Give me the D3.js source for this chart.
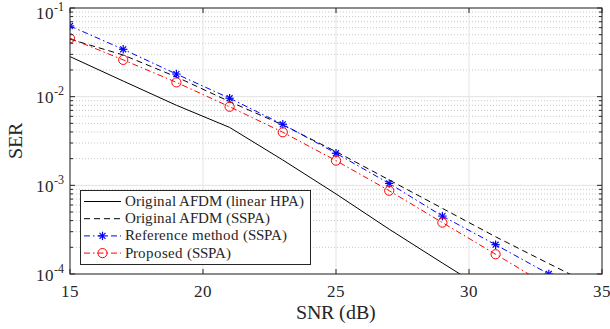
<!DOCTYPE html>
<html><head><meta charset="utf-8">
<script src="https://cdn.jsdelivr.net/npm/d3@7"></script>
<style>
@font-face{font-family:"ChartSerif";src:local("Liberation Serif"),local("LiberationSerif"),local("LiberationSerif-Regular"),local("DejaVu Serif"),local("DejaVuSerif"),local("Noto Serif"),local("NotoSerif-Regular"),local("Times New Roman"),local("FreeSerif");}
body{margin:0;background:#fff}svg{display:block}
svg text{font-family:"ChartSerif","Liberation Serif","DejaVu Serif","Noto Serif","Times New Roman",Times,serif}
</style>
</head><body><svg id="c" width="610" height="329"></svg>
<script>
const snrMarked = [15,17,19,21,23,25,27,29,31,33];
const snrAll = [15,17,19,21,23,25,27,29,31,33,35];
const linearHPA = [0.0283,0.0150,0.0080,0.0045,0.00193,8.0e-4,3.2e-4,1.33e-4,5.6e-5];
const originalSSPA = [0.0445,0.0295,0.0167,0.0088,0.0048,0.0024,0.00115,5.5e-4,2.63e-4,1.31e-4,6.6e-5];
const referenceSSPA = [0.0627,0.0342,0.0180,0.0096,0.00488,0.0023,0.00105,4.5e-4,2.14e-4,1.0e-4];
const proposedSSPA = [0.0455,0.0260,0.0145,0.0077,0.00397,0.0019,8.7e-4,3.8e-4,1.67e-4,7.3e-5];
const xTicks = [15,20,25,30,35];
const yTicks = [1e-4,1e-3,1e-2,1e-1];
const yExp = ["-4","-3","-2","-1"];
const legendLabels = ["Original AFDM (linear HPA)","Original AFDM (SSPA)","Reference method (SSPA)","Proposed (SSPA)"];

const svg = d3.select("#c");
const L=70,R=602,T=8,B=274;
const x = d3.scaleLinear().domain([15,35]).range([L,R]);
const y = d3.scaleLog().domain([1e-4,1e-1]).range([B,T]);
const ink="#262626";

// minor grid
const minor=[];
for(let e=-4;e<-1;e++) for(let m=2;m<=9;m++) minor.push(m*Math.pow(10,e));
svg.append("g").selectAll("line").data(minor).join("line")
  .attr("x1",L).attr("x2",R).attr("y1",d=>y(d)).attr("y2",d=>y(d))
  .attr("stroke","#c8c8c8").attr("stroke-width",1).attr("stroke-dasharray","1,2");
// major grid
svg.append("g").selectAll("line").data(yTicks).join("line")
  .attr("x1",L).attr("x2",R).attr("y1",d=>y(d)).attr("y2",d=>y(d))
  .attr("stroke","#e3e3e3").attr("stroke-width",1);
svg.append("g").selectAll("line").data(xTicks).join("line")
  .attr("y1",T).attr("y2",B).attr("x1",d=>x(d)).attr("x2",d=>x(d))
  .attr("stroke","#e3e3e3").attr("stroke-width",1);

// clip
svg.append("clipPath").attr("id","clip").append("rect").attr("x",L).attr("y",T).attr("width",R-L).attr("height",B-T);
const plot = svg.append("g").attr("clip-path","url(#clip)");
const line = d3.line().x(d=>x(d[0])).y(d=>y(d[1]));

const series = [
  {xs:snrAll.slice(0,linearHPA.length),ys:linearHPA,color:"#000",dash:null,marker:null},
  {xs:snrAll,ys:originalSSPA,color:"#000",dash:"6,4",marker:null},
  {xs:snrMarked,ys:referenceSSPA,color:"#0000ff",dash:"6,3,1.5,3",marker:"star"},
  {xs:snrMarked,ys:proposedSSPA,color:"#ff0000",dash:"6,3,1.5,3",marker:"circle"}
];
function star(g,cx,cy,color){
  const r=4.2;
  [0,45,90,135].forEach(a=>{
    const rad=a*Math.PI/180, dx=r*Math.cos(rad), dy=r*Math.sin(rad);
    g.append("line").attr("x1",cx-dx).attr("y1",cy-dy).attr("x2",cx+dx).attr("y2",cy+dy)
     .attr("stroke",color).attr("stroke-width",1.2);
  });
}
function circ(g,cx,cy,color){
  g.append("circle").attr("cx",cx).attr("cy",cy).attr("r",4.6).attr("fill","none").attr("stroke",color).attr("stroke-width",1);
}
series.forEach(s=>{
  const pts=s.xs.map((v,i)=>[v,s.ys[i]]);
  plot.append("path").attr("d",line(pts)).attr("fill","none").attr("stroke",s.color)
    .attr("stroke-width",1).attr("stroke-dasharray",s.dash);
  if(s.marker){
    pts.forEach(p=>{ if(p[1]>=1e-4){ if(s.marker==="star") star(plot,x(p[0]),y(p[1]),s.color); else circ(plot,x(p[0]),y(p[1]),s.color);} });
  }
});

// axes box and ticks
const ax = svg.append("g").attr("stroke",ink).attr("stroke-width",1);
ax.append("rect").attr("x",L).attr("y",T).attr("width",R-L).attr("height",B-T).attr("fill","none");
xTicks.forEach(t=>{
  ax.append("line").attr("x1",x(t)).attr("x2",x(t)).attr("y1",B).attr("y2",B-5);
  ax.append("line").attr("x1",x(t)).attr("x2",x(t)).attr("y1",T).attr("y2",T+5);
});
yTicks.forEach(t=>{
  ax.append("line").attr("x1",L).attr("x2",L+5).attr("y1",y(t)).attr("y2",y(t));
  ax.append("line").attr("x1",R).attr("x2",R-5).attr("y1",y(t)).attr("y2",y(t));
});
minor.forEach(t=>{
  ax.append("line").attr("x1",L).attr("x2",L+3).attr("y1",y(t)).attr("y2",y(t));
  ax.append("line").attr("x1",R).attr("x2",R-3).attr("y1",y(t)).attr("y2",y(t));
});

// tick labels
svg.append("g").selectAll("text").data(xTicks).join("text").attr("fill",ink)
  .attr("x",d=>x(d)).attr("y",297).attr("text-anchor","middle").attr("font-size",17).text(d=>d);
yTicks.forEach((t,i)=>{
  const base = (t===1e-1) ? 19 : y(t)+6.5;
  const tx=svg.append("text").attr("fill",ink).attr("x",64).attr("y",base).attr("text-anchor","end").attr("font-size",17);
  tx.append("tspan").text("10");
  tx.append("tspan").attr("dy",-8).attr("font-size",12).text(yExp[i]);
});
svg.append("text").attr("fill",ink).attr("x",(L+R)/2).attr("y",319).attr("text-anchor","middle").attr("font-size",19.5).text("SNR (dB)");
svg.append("text").attr("fill",ink).attr("transform","translate(22,141) rotate(-90)").attr("text-anchor","middle").attr("font-size",19.5).text("SER");

// legend
const lg = svg.append("g");
lg.append("rect").attr("x",80.5).attr("y",190.5).attr("width",230).attr("height",74).attr("fill","#fff").attr("stroke",ink).attr("stroke-width",1);
series.forEach((s,i)=>{
  const ly=201.5+i*17.2;
  lg.append("line").attr("x1",84).attr("x2",121).attr("y1",ly).attr("y2",ly).attr("stroke",s.color).attr("stroke-width",1).attr("stroke-dasharray",s.dash);
  if(s.marker==="star") star(lg,102.5,ly,s.color);
  if(s.marker==="circle") circ(lg,102.5,ly,s.color);
  lg.append("text").attr("fill",ink).attr("x",125).attr("y",ly+4.5).attr("font-size",14.5).text(legendLabels[i]);
});
</script></body></html>
